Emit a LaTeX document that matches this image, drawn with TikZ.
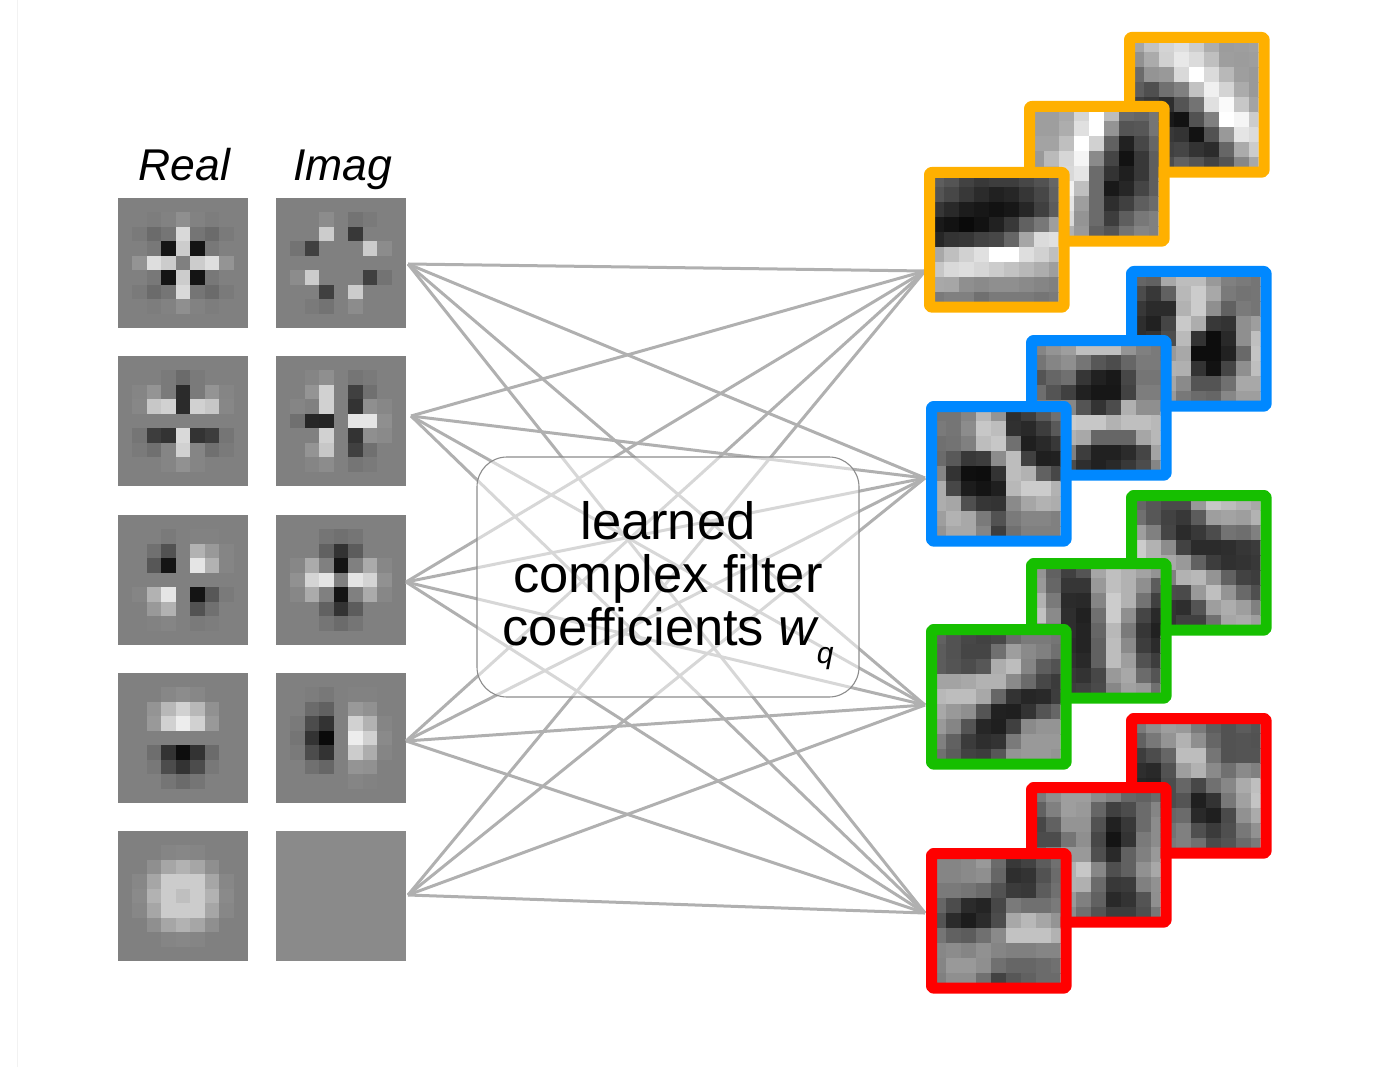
\documentclass[tikz,border=0pt]{standalone}
\usepackage{fontspec}
\setmainfont{Liberation Sans}
\usetikzlibrary{positioning}

\definecolor{stackyellow}{HTML}{FFB000}
\definecolor{stackblue}{HTML}{0088FF}
\definecolor{stackgreen}{HTML}{16BF00}
\definecolor{stackred}{HTML}{FF0000}
\definecolor{linkgray}{HTML}{B0B0B0}

% left, top, size, cell pitch, rows of gray values
\newcommand{\pximg}[5]{
  \begin{scope}
    \clip (#1,#2) rectangle +(#3,#3);
    \pgfmathsetmacro{\off}{(#3-9*#4)/2}
    \foreach \rw [count=\ry from 0] in {#5} {
      \foreach \val [count=\cx from 0] in \rw {
        \fill[white!\val!black] ({#1+\off+\cx*#4},{#2+\off+\ry*#4}) rectangle +(#4+.4,#4+.4);
      }
    }
  \end{scope}
}
% name, colour, left, top, rows
\newcommand{\stackimg}[5]{
  \pximg{#3}{#4}{123.6}{15}{#5}
  \node[stackframe, draw=#2] (#1) at (#3+61.8,#4+61.8) {};
}

\begin{document}
\begin{tikzpicture}[x=1pt,y=-1pt]

\tikzset{head/.style = {font=\fontsize{44.5}{44.5}\selectfont\itshape, inner sep=0pt}}
\tikzset{link/.style = {draw=linkgray, line width=3pt}}
\tikzset{stackframe/.style = {minimum size=134.6pt, inner sep=0pt, outer sep=0pt, line width=11pt, rounded corners=2pt, line join=round}}
\tikzset{coefbox/.style = {draw=black!45, line width=1.1pt, fill=white, fill opacity=.5, text opacity=1,
  rounded corners=30pt, minimum width=382pt, minimum height=240pt, inner sep=0pt, align=center,
  font=\fontsize{52.5}{53}\selectfont}}

\useasboundingbox (0,0) rectangle (1381,1067);

\draw[black!5, line width=1pt] (17.5,0) -- (17.5,1067);

% headings
\node[head, anchor=base] (real) at (184.5,181) {Real};
\node[head, anchor=base] (imag) at (343,181) {Imag};

% filter bank
\pximg{118}{198}{130}{14.44}{
{50,50,50,50,50,50,50,50,50},
{50,50,49,51,56,51,49,50,50},
{50,48,42,46,85,46,42,48,50},
{50,50,47,8,80,8,47,50,50},
{50,58,87,80,50,80,87,58,50},
{50,50,47,8,80,8,47,50,50},
{50,48,42,46,85,46,42,48,50},
{50,50,49,51,56,51,49,50,50},
{50,50,50,50,50,50,50,50,50}}
\pximg{276}{198}{130}{14.44}{
{50,50,50,50,50,50,50,50,50},
{50,50,50,55,50,45,48,50,50},
{50,50,50,80,50,22,50,50,50},
{50,45,25,50,50,50,80,55,50},
{50,50,50,50,50,50,50,50,50},
{50,55,80,50,50,50,25,45,50},
{50,50,50,25,50,80,50,50,50},
{50,50,48,45,50,55,50,50,50},
{50,50,50,50,50,50,50,50,50}}
\pximg{118}{356}{130}{14.44}{
{50,50,50,50,50,50,50,50,50},
{50,50,50,48,42,48,50,50,50},
{50,52,58,48,17,48,58,52,50},
{50,53,78,82,17,82,78,53,50},
{50,50,50,50,50,50,50,50,50},
{50,46,24,20,85,20,24,46,50},
{50,48,44,52,82,52,44,48,50},
{50,50,50,52,57,52,50,50,50},
{50,50,50,50,50,50,50,50,50}}
\pximg{276}{356}{130}{14.44}{
{50,50,50,50,50,50,50,50,50},
{50,50,52,56,50,46,48,50,50},
{50,50,58,82,50,25,44,50,50},
{50,52,50,82,50,20,56,53,50},
{50,44,15,14,50,90,90,56,50},
{50,50,50,82,50,20,56,54,50},
{50,50,58,78,50,25,44,50,50},
{50,50,52,55,50,46,48,50,50},
{50,50,50,50,50,50,50,50,50}}
\pximg{118}{515}{130}{14.44}{
{50,50,50,50,50,50,50,50,50},
{50,50,50,48,50,51,51,50,50},
{50,50,44,32,50,70,60,52,50},
{50,50,34,8,50,90,70,52,50},
{50,50,50,50,50,50,50,50,50},
{50,52,70,90,50,8,34,48,50},
{50,50,60,70,50,32,44,50,50},
{50,50,51,52,50,48,49,50,50},
{50,50,50,50,50,50,50,50,50}}
\pximg{276}{515}{130}{14.44}{
{50,50,50,50,50,50,50,50,50},
{50,50,50,46,44,46,50,50,50},
{50,50,50,38,20,36,50,50,50},
{50,53,67,50,8,50,67,53,50},
{50,57,83,90,50,90,83,57,50},
{50,53,67,50,8,50,67,53,50},
{50,50,50,38,20,36,50,50,50},
{50,50,50,46,42,46,50,50,50},
{50,50,50,50,50,50,50,50,50}}
\pximg{118}{673}{130}{14.44}{
{50,50,50,50,50,50,50,50,50},
{50,50,50,53,55,53,50,50,50},
{50,50,58,72,82,72,57,50,50},
{50,50,60,82,93,82,60,50,50},
{50,50,50,50,50,50,50,50,50},
{50,50,43,20,5,20,42,50,50},
{50,50,47,30,20,30,47,50,50},
{50,50,50,46,42,46,50,50,50},
{50,50,50,50,50,50,50,50,50}}
\pximg{276}{673}{130}{14.44}{
{50,50,50,50,50,50,50,50,50},
{50,50,49,47,50,51,51,50,50},
{50,50,42,38,50,60,57,50,50},
{50,48,30,20,50,82,70,52,50},
{50,46,20,4,50,93,82,54,50},
{50,48,30,20,50,80,68,52,50},
{50,50,44,40,50,58,57,50,50},
{50,50,50,50,50,52,51,50,50},
{50,50,50,50,50,50,50,50,50}}
\pximg{118}{831}{130}{14.44}{
{50,50,50,50,50,50,50,50,50},
{50,50,50,52,53,52,50,50,50},
{50,50,56,65,70,65,56,50,50},
{50,53,65,80,80,80,65,53,50},
{50,54,70,80,75,80,70,54,50},
{50,53,65,80,80,80,65,53,50},
{50,50,56,65,70,65,56,50,50},
{50,50,50,52,53,52,50,50,50},
{50,50,50,50,50,50,50,50,50}}
\fill[white!54!black] (276,831) rectangle +(130,130);

% ends of the links
\coordinate (filter1) at (408,264);
\coordinate (filter2) at (411,416);
\coordinate (filter3) at (406,582);
\coordinate (filter4) at (406,741);
\coordinate (filter5) at (408,895);
\coordinate (stack1) at (925,271);
\coordinate (stack2) at (925,478);
\coordinate (stack3) at (925,705);
\coordinate (stack4) at (925,913);

\foreach \i in {1,...,5}
  \foreach \j in {1,...,4}
    \draw[link] (filter\i) -- (stack\j);

% coefficient box
\node[coefbox] (coef) at (668,577) {learned\\complex filter\\coefficients {\itshape w}\smash{\raisebox{-18pt}{\fontsize{30}{30}\selectfont\itshape q}}\rule[-8pt]{0pt}{0pt}};

% yellow stack
\stackimg{yellow3}{stackyellow}{1135}{43}{
{65,76,83,87,80,68,61,62,63},
{57,67,82,91,86,75,62,61,62},
{42,58,60,85,100,86,72,62,60},
{37,31,44,50,76,94,83,67,60},
{25,22,18,33,45,88,98,78,64},
{20,15,10,7,32,50,100,96,80},
{20,20,22,20,7,32,60,90,86},
{25,25,25,27,20,17,40,67,80},
{30,30,30,38,33,26,33,53,66}}
\stackimg{yellow2}{stackyellow}{1035}{112}{
{62,62,66,84,100,74,42,40,46},
{62,62,68,88,100,58,33,34,46},
{64,64,75,100,82,38,13,28,40},
{60,73,84,96,54,27,7,22,37},
{60,70,85,90,42,20,12,22,37},
{60,70,95,75,42,10,15,27,37},
{60,70,90,62,42,18,25,37,42},
{60,70,85,58,42,24,37,47,50},
{60,70,70,60,38,33,45,52,50}}
\stackimg{yellow1}{stackyellow}{935}{178}{
{37,33,26,22,24,24,28,32,40},
{33,28,22,17,13,15,21,28,38},
{21,16,11,9,7,9,15,25,36},
{10,7,4,7,13,22,38,47,62},
{15,20,21,26,28,40,65,86,88},
{66,75,82,88,100,100,87,82,75},
{78,85,87,84,80,76,72,68,62},
{66,65,56,54,56,56,54,52,50},
{48,50,50,44,48,48,48,46,48}}

% blue stack
\stackimg{blue3}{stackblue}{1137}{277}{
{40,38,66,74,74,60,50,48,46},
{30,22,38,72,80,66,48,45,46},
{22,17,17,70,80,56,38,48,46},
{18,13,27,79,68,22,20,56,62},
{18,20,30,73,20,5,16,56,75},
{30,40,60,66,5,5,13,41,77},
{30,45,70,69,20,7,27,56,75},
{30,45,65,54,33,33,44,66,66},
{30,45,60,47,42,40,53,62,62}}
\stackimg{blue2}{stackblue}{1037}{346}{
{52,58,62,75,75,75,58,50,48},
{46,52,56,46,34,30,40,48,48},
{33,40,44,21,13,10,28,46,46},
{43,33,25,13,9,9,26,49,49},
{50,50,53,33,20,30,69,56,56},
{50,50,80,78,78,70,75,75,72},
{50,50,70,66,40,40,40,65,72},
{50,50,50,24,13,13,17,27,64},
{50,50,30,18,13,16,22,30,52}}
\stackimg{blue1}{stackblue}{937}{412}{
{46,46,52,72,58,18,24,35,44},
{48,46,55,78,74,19,16,24,35},
{44,45,50,74,78,44,12,16,22},
{42,35,22,24,55,74,25,12,13},
{52,20,6,5,20,74,70,38,28},
{68,28,11,8,12,72,80,80,70},
{68,65,31,21,20,54,65,70,68},
{62,70,66,48,32,48,52,52,50},
{58,66,66,52,24,44,50,50,50}}

% green stack
\stackimg{green3}{stackgreen}{1137}{501}{
{40,34,29,29,60,78,74,70,66},
{44,34,26,22,36,62,64,62,70},
{62,50,27,17,22,30,45,43,50},
{80,70,55,26,17,17,18,21,23},
{80,70,66,60,38,24,19,20,22},
{70,60,50,70,72,58,38,26,24},
{50,40,30,29,60,75,58,41,31},
{40,30,20,18,33,62,68,62,50},
{30,25,20,25,25,44,65,67,62}}
\stackimg{green2}{stackgreen}{1037}{569}{
{58,38,25,33,65,75,70,64,58},
{60,40,21,21,60,75,70,56,36},
{70,48,17,16,52,80,70,45,25},
{76,54,18,13,44,80,56,27,16},
{60,50,18,14,40,72,48,21,13},
{60,50,17,14,38,74,54,24,17},
{60,50,19,16,38,74,62,32,24},
{60,50,22,20,28,60,66,42,33},
{60,50,24,25,29,53,63,60,44}}
\stackimg{green1}{stackgreen}{937}{635}{
{38,32,28,26,28,42,48,48,46},
{36,32,27,27,44,62,54,50,44},
{36,33,30,34,68,74,52,37,32},
{64,64,66,70,70,54,42,28,23},
{72,74,74,66,40,20,15,16,24},
{66,60,56,33,13,12,20,33,40},
{60,52,33,15,12,25,54,58,58},
{50,38,23,18,20,48,60,60,60},
{44,36,26,24,34,58,60,60,58}}

% red stack
\stackimg{red3}{stackred}{1137}{724}{
{48,56,62,60,48,37,32,36,33},
{38,47,58,70,56,40,32,33,32},
{24,30,40,74,74,46,32,33,33},
{18,16,32,62,70,54,44,54,50},
{15,14,30,40,28,44,53,67,75},
{20,20,30,33,12,20,47,63,77},
{30,30,40,42,16,12,29,57,67},
{40,40,45,50,31,23,31,47,57},
{45,45,48,50,44,29,33,42,48}}
\stackimg{red2}{stackred}{1037}{793}{
{48,56,62,62,55,50,40,38,42},
{38,50,62,60,40,25,30,42,52},
{28,38,58,58,32,13,22,42,55},
{30,30,46,56,28,8,20,48,55},
{40,50,60,60,31,16,38,50,60},
{40,50,70,78,53,31,38,57,66},
{40,50,70,69,42,22,23,50,57},
{40,50,60,50,38,16,20,33,56},
{40,50,55,44,33,24,24,31,47}}
\stackimg{red1}{stackred}{937}{859}{
{52,52,54,60,42,22,26,36,44},
{52,52,54,56,40,18,20,32,42},
{48,48,46,42,32,23,22,36,44},
{40,30,17,14,28,48,44,44,48},
{33,17,11,17,30,66,72,65,58},
{46,38,36,44,54,76,76,76,70},
{53,55,52,57,52,50,50,52,52},
{52,60,60,56,44,40,40,42,44},
{50,56,56,44,26,34,38,42,42}}

\end{tikzpicture}
\end{document}
